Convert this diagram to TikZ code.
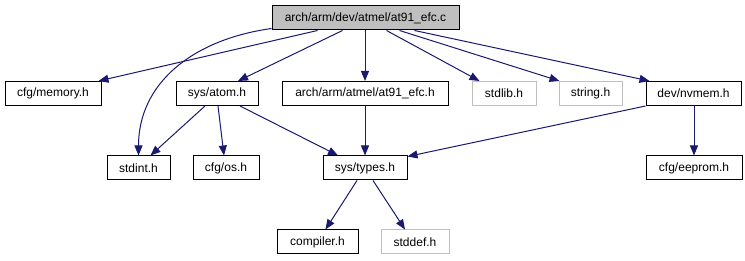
\documentclass[tikz,border=0pt]{standalone}
\usepackage{fontspec}
\setmainfont{Liberation Sans}
\usetikzlibrary{arrows.meta,calc}
\definecolor{edgeblue}{HTML}{191970}
\definecolor{boxgray}{HTML}{BFBFBF}
\begin{document}
\begin{tikzpicture}[x=1pt,y=-1pt,
  file/.style={draw=black,line width=1pt,inner sep=0pt,minimum height=24pt,
    font=\fontsize{12}{14}\selectfont,anchor=center},
  sysfile/.style={file,draw=boxgray},
  rootfile/.style={file,fill=boxgray},
  dep/.style={draw=edgeblue,line width=1pt,-{Triangle[length=10pt,width=8pt]}}]
\useasboundingbox (0,0) rectangle (745,261);

% files
\node[rootfile,minimum width=187pt] (root) at (365.5,18) {arch/arm/dev/atmel/at91\_efc.c};

\node[file,minimum width=96pt]    (memory) at (53,93.5)    {cfg/memory.h};
\node[file,minimum width=82pt]    (atom)   at (217,93.5)   {sys/atom.h};
\node[file,minimum width=166pt]   (efch)   at (365,93.5)   {arch/arm/atmel/at91\_efc.h};
\node[sysfile,minimum width=64pt] (stdlib) at (504,93.5)   {stdlib.h};
\node[sysfile,minimum width=63pt] (string) at (590.5,93.5) {string.h};
\node[file,minimum width=95pt]    (nvmem)  at (693.5,93.5) {dev/nvmem.h};

\node[file,minimum width=63pt]    (stdint) at (138.5,168)  {stdint.h};
\node[file,minimum width=66pt]    (os)     at (226,168)    {cfg/os.h};
\node[file,minimum width=84pt]    (types)  at (365,168)    {sys/types.h};
\node[file,minimum width=96pt]    (eeprom) at (694,168)    {cfg/eeprom.h};

\node[file,minimum width=81pt]    (compiler) at (317.5,242) {compiler.h};
\node[sysfile,minimum width=68pt] (stddef)   at (415,242)   {stddef.h};

% includes
\draw[dep] ([xshift=46pt]root.south west) -- ([xshift=-3pt]memory.north east);
\draw[dep] ([yshift=2pt]root.south west) .. controls (190,40) and (138.5,85) .. (stdint.north);
\draw[dep] ([xshift=71pt]root.south west) -- ([xshift=21pt]atom.north);
\draw[dep] (efch.north |- root.south) -- (efch.north);
\draw[dep] ([xshift=115pt]root.south west) -- ([xshift=8pt]stdlib.north west);
\draw[dep] ([xshift=128pt]root.south west) -- ([xshift=1pt]string.north west);
\draw[dep] ([xshift=143pt]root.south west) -- ([xshift=4pt]nvmem.north west);

\draw[dep] ([xshift=-12pt]atom.south) -- ([xshift=12pt]stdint.north);
\draw[dep] ([xshift=1pt]atom.south) -- ([xshift=-2pt]os.north);
\draw[dep] ([xshift=23pt]atom.south) -- ([xshift=-27pt]types.north);
\draw[dep] (efch.south) -- (types.north);
\draw[dep] (nvmem.south west) -- ([yshift=-1pt]types.north east);
\draw[dep] (eeprom.north |- nvmem.south) -- (eeprom.north);

\draw[dep] ([xshift=-8pt]types.south) -- ([xshift=8pt]compiler.north);
\draw[dep] ([xshift=8pt]types.south) -- ([xshift=-10pt]stddef.north);
\end{tikzpicture}
\end{document}
